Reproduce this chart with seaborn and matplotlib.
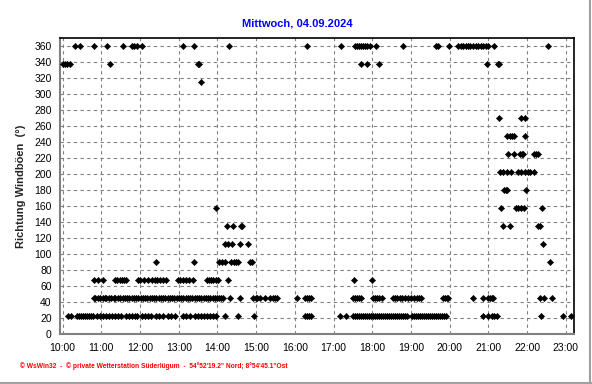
import numpy as np
import pandas as pd
import matplotlib
matplotlib.use("Agg")
import matplotlib.pyplot as plt
import seaborn as sns
from matplotlib.ticker import MultipleLocator, FixedLocator
from matplotlib.lines import Line2D

title = "Mittwoch, 04.09.2024"
y_label = "Richtung Windböen  (°)"
footer = "\u00a9 WsWin32  -  \u00a9 private Wetterstation Süderlügum  -  54°52'19.2\" Nord; 8°54'45.1\"Ost"
hour_ticks = list(range(10, 24))
hour_labels = [f"{h}:00" for h in hour_ticks]
y_ticks = list(range(0, 361, 20))

# times (HH:MM) of gusts per direction (degrees)
t_360 = ["10:20", "10:27", "10:48", "11:09", "11:33", "11:47", "11:50", "11:56", "12:03",
         "13:06", "13:23", "14:18", "16:19", "17:12", "17:33", "17:36", "17:40", "17:43",
         "17:46", "17:49", "17:52", "17:57", "18:06", "18:48", "19:38", "19:42", "19:59",
         "20:13", "20:17", "20:21", "20:25", "20:28", "20:32", "20:36", "20:40", "20:44",
         "20:48", "20:52", "20:56", "20:59", "21:09", "22:33"]
t_337 = ["10:00", "10:04", "10:07", "10:12", "11:13", "13:30", "13:32", "17:42", "17:52",
         "18:11", "20:58", "21:15", "21:17"]
t_315 = ["13:34"]
t_270 = ["21:17", "21:51", "21:56"]
t_247 = ["21:29", "21:33", "21:37", "21:40", "21:57"]
t_225 = ["21:30", "21:40", "21:49", "21:52", "21:54", "22:11", "22:14", "22:17"]
t_202 = ["21:18", "21:23", "21:29", "21:35", "21:46", "21:51", "21:56", "22:01", "22:05", "22:11"]
t_180 = ["21:24", "21:27", "21:29", "21:58"]
t_157 = ["13:58", "21:20", "21:43", "21:46", "21:51", "21:55", "22:23"]
t_135 = ["14:15", "14:24", "14:36", "14:38", "21:23", "21:33", "22:17", "22:20"]
t_112 = ["14:12", "14:16", "14:23", "14:35", "14:48", "22:25"]
t_90 = ["12:24", "13:23", "14:03", "14:07", "14:12", "14:21", "14:26", "14:29", "14:32",
        "14:50", "14:54", "22:36"]
t_67 = ["10:49", "10:55", "11:02", "11:21", "11:25", "11:29", "11:32", "11:35", "11:38",
        "11:57", "12:00", "12:06", "12:12", "12:19", "12:23", "12:26", "12:31", "12:36",
        "12:40", "12:59", "13:02", "13:07", "13:11", "13:16", "13:22", "13:44", "13:47",
        "13:50", "13:53", "13:58", "14:01", "14:17", "17:31", "18:00"]
t_45 = ["10:48", "10:51", "10:55", "10:58", "11:02", "11:05", "11:08", "11:12", "11:15",
        "11:19", "11:22", "11:26", "11:29", "11:33", "11:36", "11:40", "11:43", "11:47",
        "11:50", "11:54", "11:57", "12:01", "12:04", "12:08", "12:11", "12:15", "12:18",
        "12:22", "12:25", "12:29", "12:32", "12:36", "12:39", "12:43", "12:46", "12:50",
        "12:53", "12:57", "13:00", "13:04", "13:07", "13:11", "13:14", "13:18", "13:21",
        "13:25", "13:28", "13:32", "13:35", "13:39", "13:42", "13:46", "13:49", "13:53",
        "13:56", "14:00", "14:03", "14:06", "14:09", "14:20", "14:35", "14:55", "14:59",
        "15:02", "15:06", "15:14", "15:22", "15:26", "15:29", "15:33", "16:03", "16:16",
        "16:19", "16:22", "16:25", "17:30", "17:33", "17:37", "17:40", "17:43", "18:01",
        "18:04", "18:07", "18:11", "18:15", "18:32", "18:35", "18:38", "18:43", "18:46",
        "18:51", "18:55", "19:00", "19:05", "19:09", "19:13", "19:16", "19:50", "19:53",
        "19:56", "19:58", "20:36", "20:51", "21:00", "21:03", "21:06", "21:07", "22:20",
        "22:26", "22:38"]
t_22 = ["10:09", "10:13", "10:22", "10:26", "10:29", "10:32", "10:35", "10:38", "10:41",
        "10:44", "10:47", "10:53", "10:58", "11:03", "11:07", "11:12", "11:17", "11:21",
        "11:26", "11:31", "11:38", "11:43", "11:48", "11:52", "11:55", "12:03", "12:08",
        "12:13", "12:17", "12:25", "12:30", "12:36", "12:44", "12:48", "12:54", "13:07",
        "13:11", "13:18", "13:25", "13:30", "13:35", "13:39", "13:44", "13:49", "13:53",
        "13:58", "14:11", "14:32", "14:56", "16:16", "16:19", "16:22", "16:25", "17:10",
        "17:19", "17:30", "17:33", "17:37", "17:40", "17:43", "17:46", "17:49", "17:52",
        "17:55", "17:58", "18:01", "18:04", "18:07", "18:11", "18:14", "18:17", "18:20",
        "18:23", "18:26", "18:29", "18:32", "18:35", "18:38", "18:42", "18:45", "18:48",
        "18:51", "18:54", "19:02", "19:05", "19:08", "19:11", "19:14", "19:17", "19:20",
        "19:23", "19:26", "19:29", "19:32", "19:35", "19:39", "19:42", "19:45", "19:48",
        "19:51", "19:54", "20:52", "21:00", "21:05", "21:09", "21:13", "22:21", "22:56",
        "23:08"]

series = {360: t_360, 337.5: t_337, 315: t_315, 270: t_270, 247.5: t_247, 225: t_225,
          202.5: t_202, 180: t_180, 157.5: t_157, 135: t_135, 112.5: t_112, 90: t_90,
          67.5: t_67, 45: t_45, 22.5: t_22}

rows = []
for d, times in series.items():
    for t in times:
        hh, mm = t.split(":")
        rows.append({"hour": int(hh) + int(mm) / 60.0, "dir": d})
df = pd.DataFrame(rows)

sns.set_style("white")
plt.rcParams['font.family'] = ['Liberation Sans', 'DejaVu Sans']

W, H = 592, 384
fig = plt.figure(figsize=(W / 100, H / 100), dpi=100)
fig.patch.set_facecolor("white")
L, R, T, B = 60, 574.3, 38.3, 334.3
ax = fig.add_axes([L / W, 1 - B / H, (R - L) / W, (B - T) / H])

sns.scatterplot(data=df, x="hour", y="dir", ax=ax, marker="D", s=10, color="black",
                linewidth=0.4, edgecolor="black", legend=False, zorder=3)

ax.set_xlim(9 + 56 / 60, 23 + 13 / 60)
ax.set_ylim(0, 370)
ax.xaxis.set_major_locator(FixedLocator(hour_ticks))
ax.set_xticklabels(hour_labels)
ax.xaxis.set_minor_locator(MultipleLocator(0.25))
ax.set_yticks(y_ticks)
ax.yaxis.set_minor_locator(MultipleLocator(5))
ax.set_xlabel("")
ax.set_ylabel(y_label, fontsize=8, fontweight="bold", labelpad=6)

ax.grid(True, which="major", color="#808080", linestyle=(0, (3, 3)), linewidth=0.8)
ax.tick_params(axis="both", which="major", direction="out", length=4, width=0.8,
               color="#808080", labelsize=7.5, pad=2, labelcolor="black")
ax.tick_params(axis="both", which="minor", direction="out", length=2, width=0.6,
               color="#808080")

for side in ["left", "bottom"]:
    ax.spines[side].set_color("#808080")
    ax.spines[side].set_linewidth(1.5)
for side in ["top", "right"]:
    ax.spines[side].set_color("black")
    ax.spines[side].set_linewidth(1.2)

fig.text(297 / W, 1 - 23 / H, title, color="#0000ff", fontsize=8, fontweight="bold",
         ha="center", va="center")
fig.text(20 / W, 1 - 366 / H, footer, color="#ff0000", fontsize=4.8, fontweight="bold",
         ha="left", va="center")

fig.add_artist(Line2D([589.5 / W, 589.5 / W], [0, 1], transform=fig.transFigure,
                      color="#a0a0a0", linewidth=1.5))
fig.add_artist(Line2D([0, 1], [1.5 / H, 1.5 / H], transform=fig.transFigure,
                      color="#a0a0a0", linewidth=1.5))

fig.savefig("out.png", dpi=100)
